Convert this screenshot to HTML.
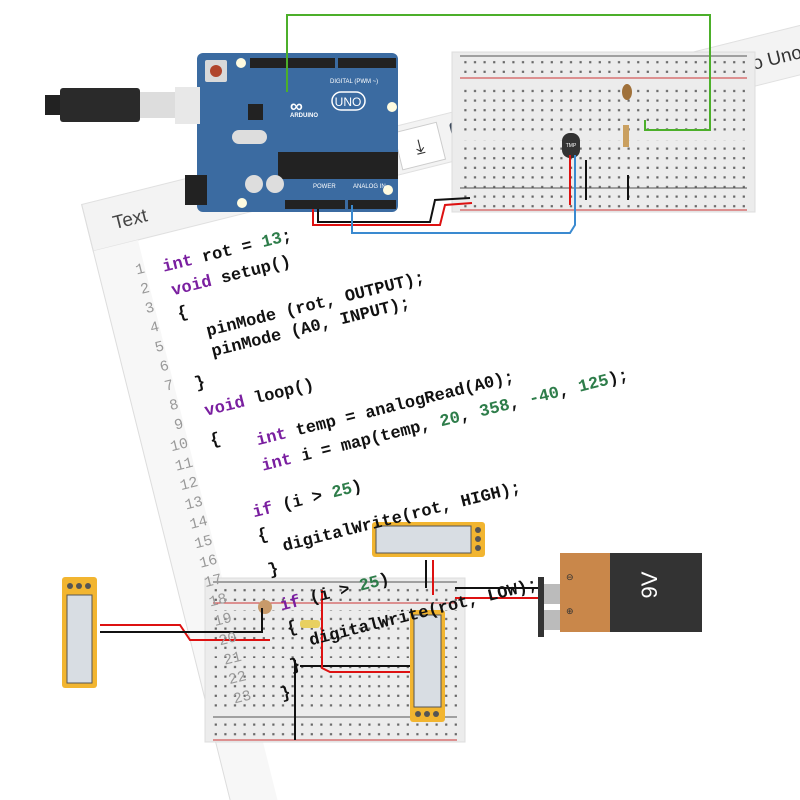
<!DOCTYPE html>
<html><head><meta charset="utf-8"><style>
html,body{margin:0;padding:0;background:#fff;width:800px;height:800px;overflow:hidden}
svg{display:block;overflow:hidden}
.num{font-family:"Liberation Mono",monospace;font-size:15px;fill:#999;text-anchor:end}
.c{font-family:"Liberation Mono",monospace;font-size:17px;fill:#111;font-weight:bold}
.k{fill:#7a1fa0}.n{fill:#2e7d4a}
</style></head><body>
<svg width="800" height="800" viewBox="0 0 800 800" xmlns="http://www.w3.org/2000/svg">
<defs>
<pattern id="dots" x="0" y="0" width="9.6" height="9.6" patternUnits="userSpaceOnUse"><rect x="3.5" y="3.5" width="2.2" height="2.2" fill="#666"/></pattern>
<clipPath id="pg"><rect x="0" y="0" width="800" height="800"/></clipPath>
</defs>
<g clip-path="url(#pg)">
<!-- code panel background -->
<g transform="translate(86,222) rotate(-14)">
  <rect x="0" y="-18" width="760" height="650" fill="#fff"/>
  <rect x="0" y="-18" width="760" height="48" fill="#f3f3f3" stroke="#e0e0e0"/>
  <rect x="0" y="30" width="46" height="620" fill="#f7f7f7"/>
  <line x1="0" y1="-18" x2="0" y2="640" stroke="#ddd"/>
  <text x="26" y="14" font-family="Liberation Sans,sans-serif" font-size="19" fill="#444">Text</text>
  <rect x="320" y="-12" width="44" height="38" fill="#fff" stroke="#ccc"/>
  <text x="342" y="14" font-family="DejaVu Sans,sans-serif" font-size="20" text-anchor="middle" fill="#333">⤓</text>
  <rect x="376" y="-8" width="22" height="26" rx="3" fill="#3d4a5c"/>
  <text x="470" y="18" font-family="Liberation Sans,sans-serif" font-size="26" fill="#222">A</text>
  <text x="492" y="8" font-family="DejaVu Sans,sans-serif" font-size="12" fill="#222">◀</text>
  <text x="615" y="14" font-family="Liberation Sans,sans-serif" font-size="19" fill="#333">1 Arduino Uno R</text>
</g>

<!-- Arduino -->
<rect x="197" y="53" width="201" height="159" rx="6" fill="#3b6ba1"/>
<circle cx="241" cy="63" r="5" fill="#fffbe0"/><circle cx="392" cy="107" r="5" fill="#fffbe0"/><circle cx="242" cy="203" r="5" fill="#fffbe0"/><circle cx="388" cy="190" r="5" fill="#fffbe0"/>
<rect x="205" y="60" width="22" height="22" rx="2" fill="#d9d9d9"/><circle cx="216" cy="71" r="6" fill="#b0452c"/>
<rect x="250" y="58" width="85" height="10" fill="#222"/><rect x="338" y="58" width="58" height="10" fill="#222"/>
<text x="330" y="83" font-family="Liberation Sans,sans-serif" font-size="6" fill="#fff">DIGITAL (PWM ~)</text>
<text x="290" y="112" font-family="Liberation Sans,sans-serif" font-size="18" fill="#fff" font-weight="bold">∞</text>
<text x="290" y="117" font-family="Liberation Sans,sans-serif" font-size="6" fill="#fff" font-weight="bold">ARDUINO</text>
<rect x="332" y="92" width="33" height="18" rx="9" fill="none" stroke="#fff" stroke-width="1.5"/>
<text x="348" y="106" font-family="Liberation Sans,sans-serif" font-size="12" fill="#fff" text-anchor="middle">UNO</text>
<rect x="248" y="104" width="15" height="16" fill="#222"/>
<rect x="232" y="130" width="35" height="14" rx="7" fill="#ddd"/>
<rect x="278" y="152" width="120" height="27" fill="#222"/>
<rect x="245" y="175" width="18" height="18" rx="9" fill="#ddd"/><rect x="266" y="175" width="18" height="18" rx="9" fill="#ddd"/>
<rect x="185" y="175" width="22" height="30" fill="#222"/>
<rect x="285" y="200" width="60" height="9" fill="#222"/><rect x="348" y="200" width="48" height="9" fill="#222"/>
<text x="313" y="188" font-family="Liberation Sans,sans-serif" font-size="6" fill="#fff">POWER</text>
<text x="353" y="188" font-family="Liberation Sans,sans-serif" font-size="6" fill="#fff">ANALOG IN</text>
<!-- USB -->
<rect x="45" y="95" width="18" height="20" fill="#222"/><rect x="60" y="88" width="80" height="34" rx="3" fill="#2a2a2a"/>
<rect x="140" y="92" width="35" height="26" fill="#ddd"/><rect x="175" y="87" width="25" height="37" fill="#e8e8e8"/>

<!-- top breadboard -->
<rect x="452" y="52" width="303" height="160" fill="#ececec" stroke="#ddd"/>
<rect x="460" y="57" width="287" height="20" fill="url(#dots)"/>
<line x1="460" y1="56" x2="747" y2="56" stroke="#555"/><line x1="460" y1="78" x2="747" y2="78" stroke="#c33"/>
<rect x="460" y="85" width="287" height="48" fill="url(#dots)"/>
<rect x="460" y="140" width="287" height="48" fill="url(#dots)"/>
<rect x="460" y="190" width="287" height="18" fill="url(#dots)"/>
<line x1="460" y1="188" x2="747" y2="188" stroke="#555"/><line x1="460" y1="210" x2="747" y2="210" stroke="#c33"/>
<rect x="562" y="133" width="18" height="25" rx="8" fill="#333"/><text x="571" y="147" font-family="Liberation Sans,sans-serif" font-size="5" fill="#fff" text-anchor="middle">TMP</text>
<rect x="623" y="125" width="6" height="22" fill="#caa060"/>
<ellipse cx="627" cy="92" rx="5" ry="8" fill="#a0713a"/>
<!-- wires top -->
<polyline points="287,92 287,15 710,15 710,130 645,130 645,120" fill="none" stroke="#4caf2a" stroke-width="2"/>
<polyline points="313,209 313,225 440,225 445,205 472,203" fill="none" stroke="#d11" stroke-width="2"/>
<polyline points="318,209 318,222 430,222 435,200 470,198" fill="none" stroke="#111" stroke-width="2"/>
<polyline points="352,205 352,233 570,233 575,225 575,155" fill="none" stroke="#3a8ad0" stroke-width="2"/>
<line x1="570" y1="155" x2="570" y2="205" stroke="#d11" stroke-width="2"/>
<line x1="586" y1="160" x2="586" y2="200" stroke="#111" stroke-width="2"/>
<line x1="628" y1="175" x2="628" y2="200" stroke="#111" stroke-width="2"/>

<!-- bottom breadboard -->
<rect x="205" y="578" width="260" height="164" fill="#ececec" stroke="#ddd"/>
<line x1="213" y1="582" x2="457" y2="582" stroke="#555"/><line x1="213" y1="603" x2="457" y2="603" stroke="#c33"/>
<rect x="213" y="584" width="244" height="18" fill="url(#dots)"/>
<rect x="213" y="610" width="244" height="48" fill="url(#dots)"/>
<rect x="213" y="664" width="244" height="48" fill="url(#dots)"/>
<rect x="213" y="720" width="244" height="18" fill="url(#dots)"/>
<line x1="213" y1="717" x2="457" y2="717" stroke="#555"/><line x1="213" y1="740" x2="457" y2="740" stroke="#c33"/>
<circle cx="265" cy="607" r="7" fill="#c89a6a"/>
<rect x="300" y="620" width="20" height="8" rx="3" fill="#e8d060"/>

<!-- bottom wires -->
<polyline points="100,625 180,625 190,640 270,640" fill="none" stroke="#d11" stroke-width="2"/>
<polyline points="100,632 262,632 262,608" fill="none" stroke="#111" stroke-width="2"/>
<polyline points="295,660 295,740" fill="none" stroke="#111" stroke-width="2"/>
<polyline points="300,666 410,666" fill="none" stroke="#111" stroke-width="2"/>
<polyline points="322,590 322,668 330,672 410,672" fill="none" stroke="#d11" stroke-width="2"/>
<line x1="426" y1="560" x2="426" y2="588" stroke="#111" stroke-width="2"/>
<line x1="433" y1="560" x2="433" y2="595" stroke="#d11" stroke-width="2"/>
<polyline points="455,588 540,588" fill="none" stroke="#111" stroke-width="2"/>
<polyline points="455,598 540,598" fill="none" stroke="#d11" stroke-width="2"/>

<!-- multimeters -->
<rect x="62" y="577" width="35" height="111" rx="3" fill="#f2b530"/><rect x="67" y="595" width="25" height="88" fill="#d8dde3" stroke="#555"/>
<circle cx="70" cy="586" r="3" fill="#555"/><circle cx="79" cy="586" r="3" fill="#555"/><circle cx="88" cy="586" r="3" fill="#555"/>
<rect x="372" y="522" width="113" height="35" rx="3" fill="#f2b530"/><rect x="376" y="526" width="95" height="27" fill="#d8dde3" stroke="#555"/>
<circle cx="478" cy="530" r="3" fill="#555"/><circle cx="478" cy="539" r="3" fill="#555"/><circle cx="478" cy="548" r="3" fill="#555"/>
<rect x="410" y="610" width="35" height="112" rx="3" fill="#f2b530"/><rect x="414" y="615" width="27" height="92" fill="#d8dde3" stroke="#555"/>
<circle cx="418" cy="714" r="3" fill="#555"/><circle cx="427" cy="714" r="3" fill="#555"/><circle cx="436" cy="714" r="3" fill="#555"/>

<!-- 9V -->
<rect x="538" y="577" width="6" height="60" fill="#333"/>
<rect x="544" y="584" width="16" height="20" fill="#bbb"/><rect x="544" y="610" width="16" height="20" fill="#bbb"/>
<rect x="560" y="553" width="52" height="79" fill="#c9874a"/>
<rect x="610" y="553" width="92" height="79" fill="#333"/>
<text x="664" y="592" font-family="Liberation Sans,sans-serif" font-size="22" fill="#fff" transform="rotate(-90 657 592)" text-anchor="middle">9V</text>
<text x="566" y="580" font-family="DejaVu Sans,sans-serif" font-size="9" fill="#333">⊖</text>
<text x="566" y="614" font-family="DejaVu Sans,sans-serif" font-size="9" fill="#333">⊕</text>

<!-- code text -->
<g transform="translate(90,215) rotate(-14)">
  <g class="num">
    <text x="40" y="69">1</text><text x="40" y="89">2</text><text x="40" y="109">3</text><text x="40" y="129">4</text><text x="40" y="149">5</text><text x="40" y="169">6</text><text x="40" y="189">7</text><text x="40" y="209">8</text><text x="40" y="229">9</text><text x="40" y="249">10</text><text x="40" y="269">11</text><text x="40" y="289">12</text><text x="40" y="309">13</text><text x="40" y="329">14</text><text x="40" y="349">15</text><text x="40" y="369">16</text><text x="40" y="389">17</text><text x="40" y="409">18</text><text x="40" y="429">19</text><text x="40" y="449">20</text><text x="40" y="469">21</text><text x="40" y="489">22</text><text x="40" y="509">23</text>
  </g>
  <g class="c">
    <text x="58" y="73"><tspan class="k">int</tspan> rot = <tspan class="n">13</tspan>;</text>
    <text x="61" y="98"><tspan class="k">void</tspan> setup()</text>
    <text x="61" y="122">{</text>
    <text x="85" y="146">pinMode (rot, OUTPUT);</text>
    <text x="85" y="167">pinMode (A0, INPUT);</text>
    <text x="61" y="194">}</text>
    <text x="64" y="223"><tspan class="k">void</tspan> loop()</text>
    <text x="62" y="253">{</text>
    <text x="107" y="264"><tspan class="k">int</tspan> temp = analogRead(A0);</text>
    <text x="106" y="290"><tspan class="k">int</tspan> i = map(temp, <tspan class="n">20</tspan>, <tspan class="n">358</tspan>, <tspan class="n">-40</tspan>, <tspan class="n">125</tspan>);</text>
    <text x="86" y="333"><tspan class="k">if</tspan> (i &gt; <tspan class="n">25</tspan>)</text>
    <text x="85" y="357">{</text>
    <text x="107" y="373">digitalWrite(rot, HIGH);</text>
    <text x="87" y="393">}</text>
    <text x="90" y="430"><tspan class="k">if</tspan> (i &gt; <tspan class="n">25</tspan>)</text>
    <text x="91" y="454">{</text>
    <text x="110" y="471">digitalWrite(rot, LOW);</text>
    <text x="85" y="491">}</text>
    <text x="69" y="516">}</text>
  </g>
</g>
</g>
</svg>
</body></html>
